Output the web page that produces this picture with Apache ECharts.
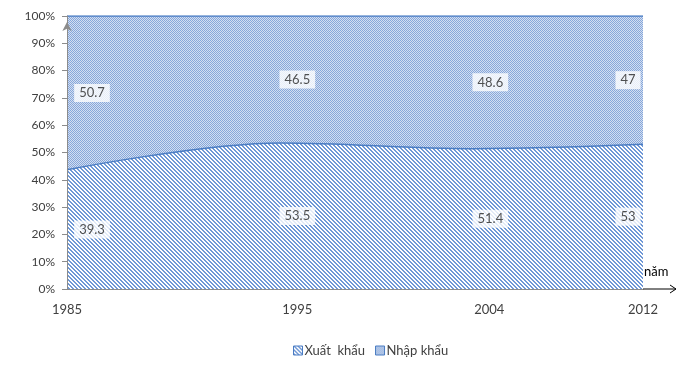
<!DOCTYPE html>
<html><head><meta charset="utf-8">
<script src="https://cdn.jsdelivr.net/npm/echarts@6/dist/echarts.min.js"></script>
<style>html,body{margin:0;padding:0;background:#fff}#c{width:685px;height:370px}</style>
</head><body><div id="c"></div>
<script>
// ---- data ----
const years = [1985, 1995, 2004, 2012];
const xuatKhau = [39.3, 53.5, 51.4, 53];
const nhapKhau = [50.7, 46.5, 48.6, 47];
const yTickValues = [0, 10, 20, 30, 40, 50, 60, 70, 80, 90, 100];
const seriesNames = ['Xuất  khẩu', 'Nhập khẩu'];
const axisUnit = 'năm';

// ---- styling helpers ----
function tile(size, fn) {
  const c = document.createElement('canvas');
  c.width = size; c.height = size;
  const g = c.getContext('2d');
  for (let y = 0; y < size; y++) for (let x = 0; x < size; x++) {
    const col = fn(x, y);
    if (col) { g.fillStyle = col; g.fillRect(x, y, 1, 1); }
  }
  return c;
}
const stripe = tile(4, (x, y) => (((x - y) % 4 + 4) % 4 < 2) ? '#6f98d6' : '#ffffff');
const checker = tile(2, (x, y) => ((x + y) % 2 === 0) ? '#86a7da' : '#d3def1');
const stripeFill = { image: stripe, repeat: 'repeat' };
const checkerFill = { image: checker, repeat: 'repeat' };
const FONT = 'Lato, "Open Sans", sans-serif';
const TXT = '#404040';
const labelDx = [25, 17, 18, -15];

// ---- derived (percent shares, cumulative) ----
const total = years.map((_, i) => xuatKhau[i] + nhapKhau[i]);
const pctX = years.map((_, i) => xuatKhau[i] / total[i] * 100);
const pctN = years.map((_, i) => nhapKhau[i] / total[i] * 100);
const cumN = years.map((_, i) => pctX[i] + pctN[i]);

function labelSeries(name, raw, mids) {
  return {
    type: 'scatter', name: name + '_lbl', symbolSize: 0, silent: true, z: 10,
    data: years.map((yr, i) => ({
      value: [yr, mids[i]],
      label: { offset: [labelDx[i], 0] }
    })),
    label: {
      show: true, position: 'inside',
      formatter: p => String(raw[p.dataIndex]),
      backgroundColor: '#ffffff', padding: [3, 5, 2, 5],
      color: '#262626', fontFamily: FONT, fontSize: 13
    }
  };
}

const chart = echarts.init(document.getElementById('c'), null, { renderer: 'canvas' });
chart.setOption({
  animation: false,
  grid: { left: 67, right: 42, top: 16, bottom: 81, containLabel: false },
  xAxis: {
    type: 'value', min: years[0], max: years[years.length - 1],
    axisLine: { show: true, lineStyle: { color: '#8c8c8c', width: 1 } },
    axisTick: { show: false },
    splitLine: { show: false },
    axisLabel: {
      customValues: years,
      margin: 14,
      color: TXT, fontFamily: FONT, fontSize: 13,
      formatter: v => (v === years[0] || v === years[years.length - 1]) ? String(v) : '{s|' + v + '}',
      rich: { s: { padding: [0, 0, 0, 34], color: TXT, fontFamily: FONT, fontSize: 13 } }
    }
  },
  yAxis: {
    type: 'value', min: 0, max: 100, interval: 10, z: 10,
    axisLine: { show: true, lineStyle: { color: '#8c8c8c', width: 1 }, symbol: ['none', 'arrow'], symbolSize: [7, 9], symbolOffset: [0, -6] },
    axisTick: { show: true, inside: false, length: 5, lineStyle: { color: '#8c8c8c' } },
    splitLine: { show: false },
    axisLabel: { margin: 12, color: TXT, fontFamily: FONT, fontSize: 12, formatter: v => yTickValues.includes(v) ? v + '%' : '' }
  },
  legend: {
    bottom: 8, left: 288, itemWidth: 9, itemHeight: 9, itemGap: 10,
    icon: 'rect',
    textStyle: { color: TXT, fontFamily: FONT, fontSize: 13, padding: [0, 0, 0, -3] },
    data: [
      { name: seriesNames[0], itemStyle: { color: stripeFill, borderColor: '#4a7cc3', borderWidth: 1 } },
      { name: seriesNames[1], itemStyle: { color: checkerFill, borderColor: '#4a7cc3', borderWidth: 1 } }
    ]
  },
  series: [
    {
      name: seriesNames[1], type: 'line', smooth: 0.35, showSymbol: false, z: 2,
      data: years.map((yr, i) => [yr, cumN[i]]),
      lineStyle: { color: '#4a7cc3', width: 1.5 },
      itemStyle: { color: '#4a7cc3' },
      areaStyle: { color: checkerFill, opacity: 1, origin: 'start' }
    },
    {
      name: seriesNames[0], type: 'line', smooth: 0.35, showSymbol: false, z: 3,
      data: years.map((yr, i) => [yr, pctX[i]]),
      lineStyle: { color: '#4a7cc3', width: 1.5 },
      itemStyle: { color: '#4a7cc3' },
      areaStyle: { color: stripeFill, opacity: 1, origin: 'start' }
    },
    labelSeries(seriesNames[0], xuatKhau, years.map((_, i) => pctX[i] / 2)),
    labelSeries(seriesNames[1], nhapKhau, years.map((_, i) => pctX[i] + pctN[i] / 2))
  ]
});

// x-axis arrow and unit label
const end = chart.convertToPixel({ gridIndex: 0 }, [years[years.length - 1], 0]);
chart.setOption({
  graphic: [
    { type: 'line', shape: { x1: end[0], y1: end[1], x2: end[0] + 33, y2: end[1] }, style: { stroke: '#000', lineWidth: 1 }, z: 20 },
    { type: 'polyline', shape: { points: [[end[0] + 27, end[1] - 4], [end[0] + 33, end[1]], [end[0] + 27, end[1] + 4]] }, style: { stroke: '#000', lineWidth: 1, fill: null }, z: 20 },
    { type: 'text', x: end[0] + 1, y: end[1] - 24, style: { text: axisUnit, fill: '#000', font: '13px ' + FONT }, z: 20 }
  ]
});
</script></body></html>
